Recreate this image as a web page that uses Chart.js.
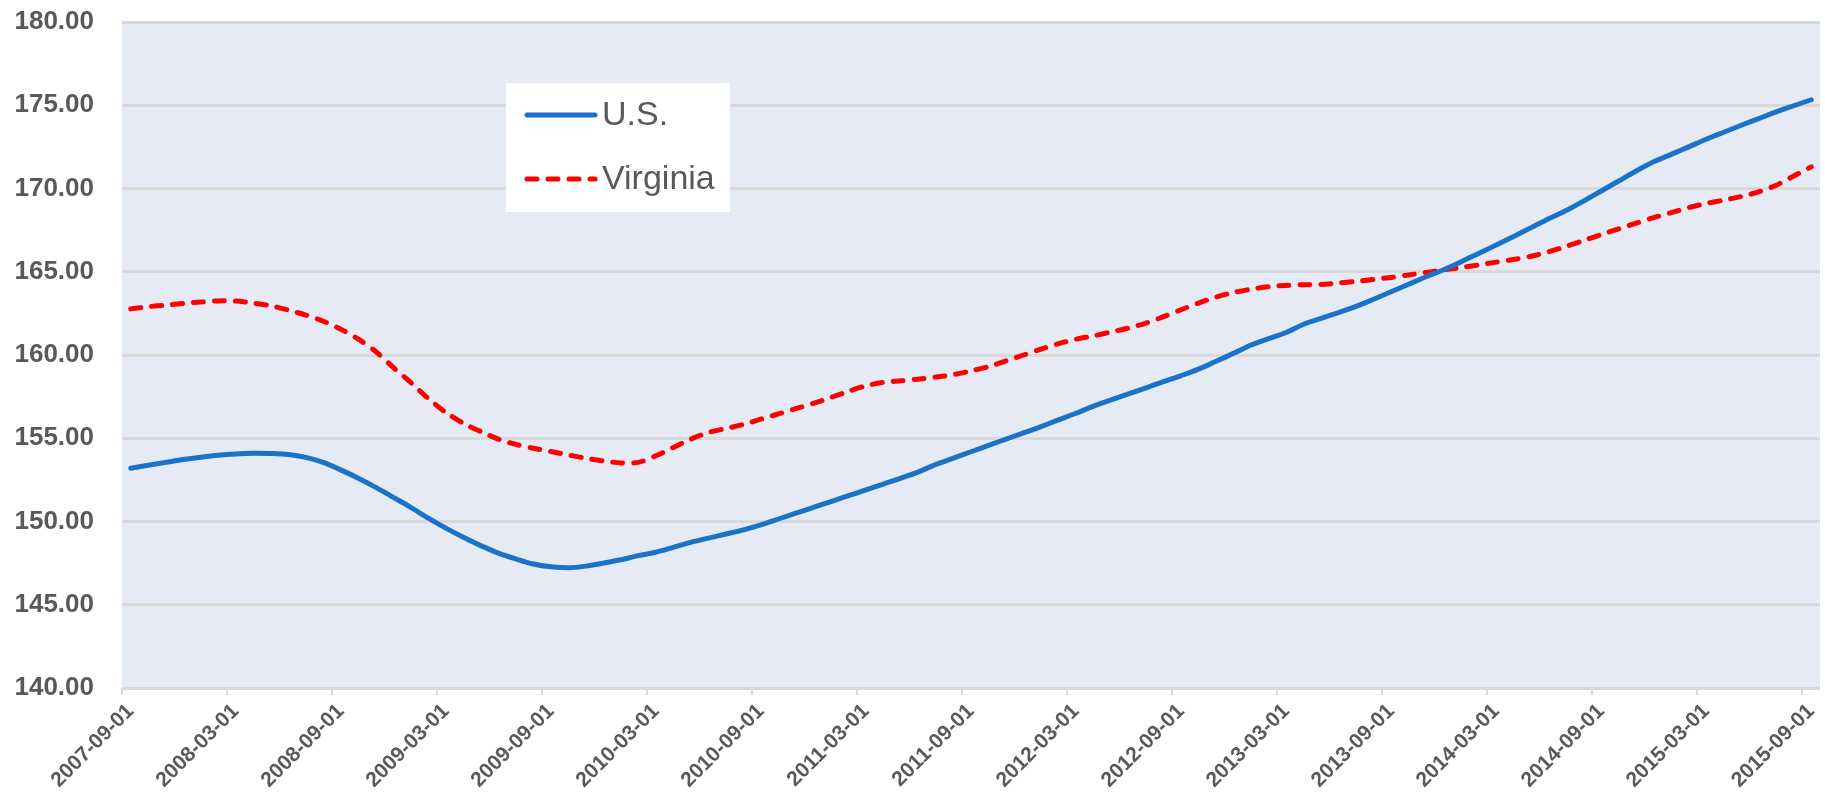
<!DOCTYPE html>
<html>
<head>
<meta charset="utf-8">
<script src="https://cdn.jsdelivr.net/npm/chart.js@4"></script>
<style>
  html, body { margin: 0; padding: 0; background: #ffffff; }
  #wrap { width: 1825px; height: 799px; position: relative; }
</style>
</head>
<body>
<div id="wrap"><canvas id="chart" width="1825" height="799"></canvas></div>
<script>
// monthly dates, 2007-09 .. 2015-09
const months = [
  '2007-09-01','2007-10-01','2007-11-01','2007-12-01',
  '2008-01-01','2008-02-01','2008-03-01','2008-04-01','2008-05-01','2008-06-01','2008-07-01','2008-08-01','2008-09-01','2008-10-01','2008-11-01','2008-12-01',
  '2009-01-01','2009-02-01','2009-03-01','2009-04-01','2009-05-01','2009-06-01','2009-07-01','2009-08-01','2009-09-01','2009-10-01','2009-11-01','2009-12-01',
  '2010-01-01','2010-02-01','2010-03-01','2010-04-01','2010-05-01','2010-06-01','2010-07-01','2010-08-01','2010-09-01','2010-10-01','2010-11-01','2010-12-01',
  '2011-01-01','2011-02-01','2011-03-01','2011-04-01','2011-05-01','2011-06-01','2011-07-01','2011-08-01','2011-09-01','2011-10-01','2011-11-01','2011-12-01',
  '2012-01-01','2012-02-01','2012-03-01','2012-04-01','2012-05-01','2012-06-01','2012-07-01','2012-08-01','2012-09-01','2012-10-01','2012-11-01','2012-12-01',
  '2013-01-01','2013-02-01','2013-03-01','2013-04-01','2013-05-01','2013-06-01','2013-07-01','2013-08-01','2013-09-01','2013-10-01','2013-11-01','2013-12-01',
  '2014-01-01','2014-02-01','2014-03-01','2014-04-01','2014-05-01','2014-06-01','2014-07-01','2014-08-01','2014-09-01','2014-10-01','2014-11-01','2014-12-01',
  '2015-01-01','2015-02-01','2015-03-01','2015-04-01','2015-05-01','2015-06-01','2015-07-01','2015-08-01','2015-09-01'
];

const usValues = [
  153.20, 153.38, 153.55, 153.72,
  153.86, 153.98, 154.06, 154.10, 154.08, 154.02, 153.85, 153.55, 153.10, 152.60, 152.05, 151.45,
  150.85, 150.20, 149.60, 149.05, 148.55, 148.10, 147.75, 147.45, 147.28, 147.22, 147.32, 147.50,
  147.70, 147.95, 148.15, 148.45, 148.75, 149.00, 149.25, 149.50, 149.80, 150.15, 150.50, 150.85,
  151.20, 151.55, 151.90, 152.25, 152.60, 152.98, 153.43, 153.81, 154.19, 154.57, 154.95, 155.32,
  155.70, 156.10, 156.50, 156.93, 157.30, 157.67, 158.03, 158.40, 158.76, 159.15, 159.62, 160.10,
  160.60, 160.98, 161.35, 161.85, 162.20, 162.55, 162.92, 163.35, 163.80, 164.25, 164.70, 165.12,
  165.60, 166.10, 166.60, 167.12, 167.65, 168.18, 168.68, 169.25, 169.85, 170.45, 171.05, 171.60,
  172.05, 172.50, 172.96, 173.38, 173.80, 174.20, 174.60, 174.97, 175.33
];

const vaValues = [
  162.77, 162.90, 163.00, 163.10,
  163.18, 163.25, 163.24, 163.12, 162.95, 162.70, 162.40, 162.03, 161.55, 160.95, 160.20, 159.25,
  158.35, 157.38, 156.55, 155.90, 155.40, 154.95, 154.63, 154.40, 154.20, 154.00, 153.80, 153.64,
  153.52, 153.55, 153.95, 154.45, 154.95, 155.35, 155.58, 155.83, 156.15, 156.46, 156.78, 157.10,
  157.45, 157.82, 158.15, 158.36, 158.45, 158.55, 158.68, 158.82, 159.05, 159.30, 159.65, 160.00,
  160.35, 160.68, 160.95, 161.15, 161.38, 161.62, 161.92, 162.30, 162.72, 163.12, 163.48, 163.75,
  163.95, 164.10, 164.18, 164.22, 164.24, 164.32, 164.42, 164.54, 164.66, 164.81, 164.96, 165.11,
  165.26, 165.41, 165.58, 165.74, 165.93, 166.20, 166.52, 166.88, 167.23, 167.58, 167.92, 168.25,
  168.55, 168.85, 169.10, 169.30, 169.52, 169.80, 170.20, 170.75, 171.30
];

const seriesNames = ['U.S.', 'Virginia'];
const yTicks = [140, 145, 150, 155, 160, 165, 170, 175, 180];
const labelEvery = 6;

const fontFamily = "'Liberation Sans', Arial, sans-serif";
const textColor = '#595959';
const gridColor = '#d9d9d9';

// light blue plot area
const plotBackground = {
    id: 'plotBackground',
    beforeDraw(chart) {
        const { ctx, chartArea } = chart;
        ctx.save();
        ctx.fillStyle = '#e6eaf5';
        ctx.fillRect(chartArea.left, chartArea.top, chartArea.right - chartArea.left, chartArea.bottom - chartArea.top);
        ctx.restore();
    }
};

// legend box sitting inside the plot
const insideLegend = {
    id: 'insideLegend',
    afterDraw(chart) {
        const ctx = chart.ctx;
        const box = { x: 506, y: 83, w: 224, h: 129 };
        ctx.save();
        ctx.fillStyle = '#ffffff';
        ctx.fillRect(box.x, box.y, box.w, box.h);
        chart.data.datasets.forEach((ds, i) => {
            const y = 115 + i * 64;
            ctx.beginPath();
            ctx.lineWidth = ds.borderWidth;
            ctx.strokeStyle = ds.borderColor;
            ctx.lineCap = 'round';
            ctx.setLineDash(ds.borderDash || []);
            ctx.moveTo(527, y);
            ctx.lineTo(595, y);
            ctx.stroke();
            ctx.setLineDash([]);
            ctx.fillStyle = textColor;
            ctx.font = '34px ' + fontFamily;
            ctx.textBaseline = 'middle';
            ctx.textAlign = 'left';
            ctx.fillText(ds.label, 602, y + 1);
        });
        ctx.restore();
    }
};

const ctx = document.getElementById('chart').getContext('2d');
const chart = new Chart(ctx, {
    type: 'line',
    data: {
        labels: months,
        datasets: [
            {
                label: seriesNames[0],
                data: usValues,
                borderColor: '#1a73c8',
                borderWidth: 5,
                pointRadius: 0,
                tension: 0.3,
                borderCapStyle: 'round',
                borderJoinStyle: 'round',
                fill: false
            },
            {
                label: seriesNames[1],
                data: vaValues,
                borderColor: '#ff0000',
                borderWidth: 5,
                borderDash: [10, 11],
                pointRadius: 0,
                tension: 0.3,
                borderCapStyle: 'round',
                borderJoinStyle: 'round',
                fill: false
            }
        ]
    },
    options: {
        responsive: false,
        animation: false,
        layout: { padding: { top: 22, right: 5, left: 0, bottom: 0 } },
        plugins: {
            legend: { display: false },
            tooltip: { enabled: false }
        },
        scales: {
            x: {
                type: 'category',
                offset: true,
                afterFit: (scale) => {
                    scale.height = 111;
                    scale.paddingLeft = 0;
                    scale.paddingRight = 0;
                },
                border: { display: false },
                grid: {
                    offset: true,
                    drawOnChartArea: false,
                    tickLength: 7,
                    lineWidth: 2,
                    color: (c) => (c.index % labelEvery === 0 ? gridColor : 'rgba(0,0,0,0)')
                },
                ticks: {
                    autoSkip: false,
                    minRotation: 45,
                    maxRotation: 45,
                    padding: 4,
                    color: textColor,
                    font: { family: fontFamily, size: 21, weight: 'bold' },
                    callback: function (value, index) {
                        return index % labelEvery === 0 ? this.getLabelForValue(value) : '';
                    }
                }
            },
            y: {
                min: yTicks[0],
                max: yTicks[yTicks.length - 1],
                afterFit: (scale) => {
                    scale.width = 122;
                    scale.paddingTop = 0;
                    scale.paddingBottom = 0;
                },
                afterBuildTicks: (scale) => { scale.ticks = yTicks.map(v => ({ value: v })); },
                border: { display: false },
                grid: {
                    color: gridColor,
                    lineWidth: 3,
                    drawTicks: false
                },
                ticks: {
                    padding: 28,
                    color: textColor,
                    font: { family: fontFamily, size: 26, weight: 'bold' },
                    callback: (v) => Number(v).toFixed(2)
                }
            }
        }
    },
    plugins: [plotBackground, insideLegend]
});
</script>
</body>
</html>
